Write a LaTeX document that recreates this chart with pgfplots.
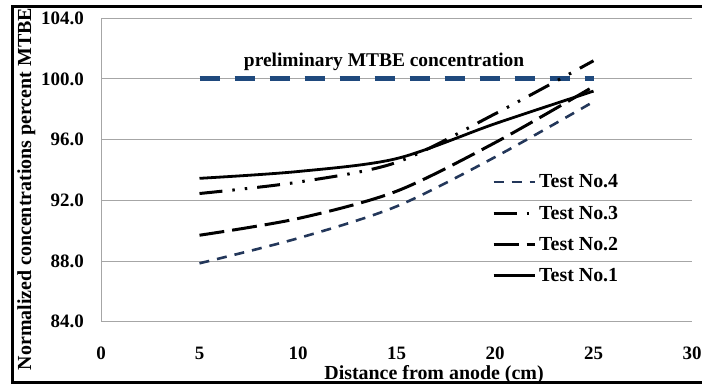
\documentclass[border=0pt]{standalone}
\usepackage{fontspec}
\setmainfont{Liberation Serif}
\usepackage{pgfplots}
\pgfplotsset{compat=1.18}

\definecolor{refblue}{RGB}{31,73,125}
\definecolor{navy}{RGB}{35,55,90}
\definecolor{gridgray}{RGB}{166,166,166}

\begin{document}
\begin{tikzpicture}
\begin{axis}[
  at={(101bp,63.3bp)}, anchor=south west,
  scale only axis, width=591bp, height=303.4bp,
  xmin=0, xmax=30, ymin=84, ymax=104,
  xtick={0,5,...,30}, ytick={84,88,...,104},
  axis x line*=bottom, axis y line*=left,
  axis line style={-, draw=gridgray, line width=1bp},
  ymajorgrids, grid style={gridgray, line width=1bp},
  major tick length=0pt,
  /pgf/number format/assume math mode=true,
  tick label style={font=\fontsize{19}{21}\selectfont\bfseries, inner sep=0pt},
  y tick label style={anchor=east, xshift=-17bp,
    /pgf/number format/.cd, fixed, fixed zerofill, precision=1},
  x tick label style={anchor=north, yshift=-25bp},
  xlabel={Distance from anode (cm)},
  xlabel style={at={(axis description cs:0.5635,0)}, anchor=base, yshift=-58bp,
    font=\fontsize{20}{22}\selectfont\bfseries},
  ylabel={Normalized concentrations percent MTBE},
  ylabel style={at={(axis description cs:-0.1184,0.437)}, anchor=base,
    font=\fontsize{20}{22}\selectfont\bfseries},
  legend style={draw=none, fill=none, at={(axis description cs:0.6616,0.495)},
    anchor=north west, inner sep=0pt, row sep=10.5bp,
    font=\fontsize{20}{22}\selectfont\bfseries, nodes={inner sep=3bp}},
  legend cell align=left,
  legend image code/.code={\draw[#1] (0bp,0bp) -- (41bp,0bp);},
  clip=false,
]
% initial MTBE level
\addplot[refblue, line width=5bp, dash pattern=on 20bp off 15bp, forget plot]
  coordinates {(5,100) (25,100)};
\node[anchor=base, font=\fontsize{19.5}{22}\selectfont\bfseries]
  at (axis cs:14.37,100.8) {preliminary MTBE concentration};

\addplot[navy, line width=2.6bp, dash pattern=on 10bp off 8bp, smooth]
  coordinates {(5,87.85) (10,89.5) (15,91.6) (20,94.85) (25,98.5)};
\addlegendentry{Test No.4}
\addplot[black, line width=3bp,
  dash pattern=on 23bp off 10bp on 2.5bp off 10bp on 2.5bp off 10bp, smooth]
  coordinates {(5,92.45) (10,93.2) (15,94.5) (20,97.7) (25,101.2)};
\addlegendentry{Test No.3}
\addplot[black, line width=3bp, dash pattern=on 25bp off 8bp, smooth]
  coordinates {(5,89.7) (10,90.8) (15,92.6) (20,95.8) (25,99.5)};
\addlegendentry{Test No.2}
\addplot[black, line width=2.8bp, smooth]
  coordinates {(5,93.45) (10,93.9) (15,94.75) (20,97.05) (25,99.2)};
\addlegendentry{Test No.1}
\end{axis}
% outer frame
\draw[line width=3bp] (12bp,2bp) rectangle (712bp,378bp);
\pgfresetboundingbox
\path[use as bounding box] (0bp,0bp) rectangle (702bp,385bp);
\end{tikzpicture}
\end{document}
